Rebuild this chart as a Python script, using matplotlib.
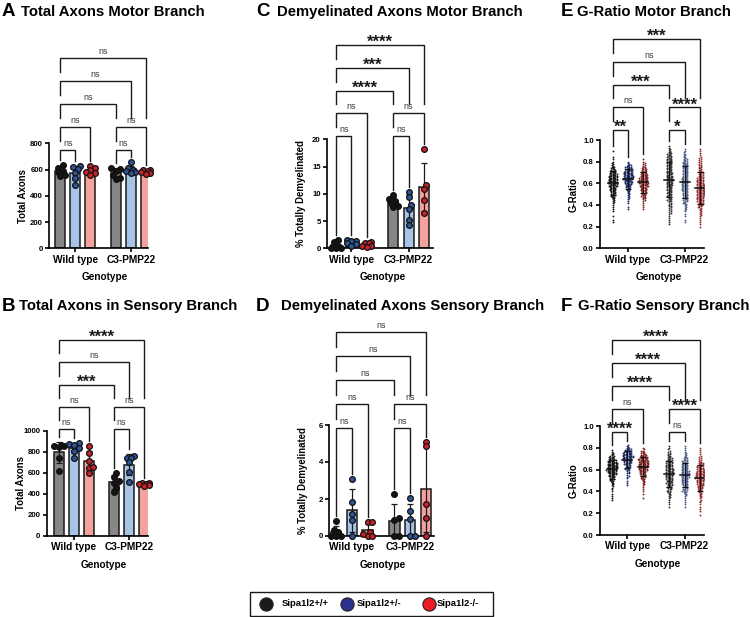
import matplotlib
matplotlib.use("Agg")
import matplotlib.pyplot as plt
import numpy as np
from matplotlib.lines import Line2D
from matplotlib.patches import Rectangle

plt.rcParams["font.family"] = ["Liberation Sans", "DejaVu Sans"]

GROUPS = ["Wild type", "C3-PMP22"]
GENOTYPES = ["Sipa1l2+/+", "Sipa1l2+/-", "Sipa1l2-/-"]

# per animal, order: WT +/+, WT +/-, WT -/-, C3 +/+, C3 +/-, C3 -/-
motor_total = [[635, 615, 590, 580, 555, 548],
               [628, 620, 605, 575, 535, 485],
               [630, 610, 595, 580, 575, 560],
               [615, 605, 590, 560, 535, 530],
               [655, 610, 600, 590, 580, 575],
               [600, 595, 590, 580, 570, 565]]
sensory_total = [[860, 855, 850, 845, 745, 615],
                 [885, 875, 860, 840, 810, 745],
                 [850, 785, 715, 650, 600, 660],
                 [600, 560, 520, 505, 460, 420],
                 [755, 745, 740, 700, 610, 510],
                 [505, 500, 495, 490, 480, 475]]
motor_demyel = [[1.5, 1.2, 0.5, 0.1, 0.0, 0.0],
                [1.6, 1.4, 1.3, 1.0, 0.7, 0.4],
                [1.1, 1.0, 0.9, 0.5, 0.4, 0.3],
                [9.8, 9.0, 8.6, 8.3, 7.8, 7.5],
                [10.4, 9.5, 8.0, 7.2, 5.2, 4.2],
                [18.3, 11.6, 10.8, 8.9, 6.5]]
sensory_demyel = [[0.8, 0.3, 0.2, 0.0, 0.0, 0.0],
                  [3.1, 1.85, 1.2, 0.85, 0.0],
                  [0.75, 0.75, 0.2, 0.1, 0.0, 0.0],
                  [2.27, 0.95, 0.85, 0.0, 0.0],
                  [2.05, 1.35, 0.9, 0.0, 0.0],
                  [5.1, 4.85, 1.75, 0.95, 0.0]]

# G-ratio: number of axons per 0.02 bin
G_BINS = [0.18, 0.20, 0.22, 0.24, 0.26, 0.28, 0.30, 0.32, 0.34, 0.36,
          0.38, 0.40, 0.42, 0.44, 0.46, 0.48, 0.50, 0.52, 0.54, 0.56,
          0.58, 0.60, 0.62, 0.64, 0.66, 0.68, 0.70, 0.72, 0.74, 0.76,
          0.78, 0.80, 0.82, 0.84, 0.86, 0.88, 0.90, 0.92, 0.94, 0.96]
motor_gratio = [
    [0, 0, 0, 1, 1, 0, 1, 0, 1, 1,  1, 1, 2, 2, 3, 4, 5, 6, 7, 8,
     9, 10, 11, 11, 10, 9, 7, 6, 4, 3,  2, 1, 1, 1, 0, 0, 1, 0, 0, 0],
    [0, 0, 0, 0, 0, 0, 0, 0, 0, 1,  1, 0, 1, 1, 2, 2, 3, 3, 4, 5,
     6, 8, 9, 11, 12, 11, 10, 9, 8, 6,  3, 1, 0, 0, 0, 0, 0, 0, 0, 0],
    [0, 0, 0, 0, 0, 0, 0, 0, 0, 1,  1, 1, 1, 2, 3, 4, 5, 6, 7, 8,
     9, 10, 10, 10, 9, 8, 7, 5, 4, 3,  2, 1, 1, 0, 0, 0, 0, 0, 0, 0],
    [0, 0, 1, 1, 1, 1, 1, 2, 2, 2,  3, 3, 3, 4, 4, 5, 5, 5, 6, 6,
     7, 7, 8, 8, 8, 7, 7, 6, 6, 6,  6, 6, 6, 5, 5, 4, 3, 2, 1, 0],
    [0, 0, 0, 1, 1, 0, 1, 1, 1, 2,  2, 3, 4, 5, 5, 6, 6, 6, 7, 7,
     7, 7, 7, 7, 6, 6, 6, 6, 6, 6,  5, 5, 4, 3, 3, 2, 1, 1, 0, 0],
    [0, 1, 1, 1, 1, 1, 2, 2, 2, 3,  4, 5, 6, 7, 8, 8, 9, 9, 9, 9,
     9, 8, 8, 7, 6, 5, 5, 4, 4, 3,  3, 2, 2, 2, 1, 1, 1, 1, 0, 0],
]
sensory_gratio = [
    [0, 0, 0, 0, 0, 0, 0, 1, 1, 1,  1, 1, 1, 2, 2, 3, 4, 5, 7, 9,
     11, 12, 13, 13, 12, 10, 7, 5, 3, 2,  1, 0, 0, 0, 0, 0, 0, 0, 0, 0],
    [0, 0, 0, 0, 0, 0, 0, 0, 0, 0,  0, 0, 0, 0, 1, 1, 1, 1, 2, 2,
     3, 4, 5, 6, 8, 9, 11, 12, 11, 9,  7, 4, 2, 0, 0, 0, 0, 0, 0, 0],
    [0, 0, 0, 0, 0, 0, 0, 0, 1, 0,  1, 1, 1, 1, 2, 2, 3, 4, 5, 7,
     8, 10, 11, 12, 12, 11, 10, 8, 6, 4,  2, 1, 0, 0, 0, 0, 0, 0, 0, 0],
    [0, 0, 0, 0, 1, 1, 1, 1, 2, 2,  3, 4, 4, 5, 6, 7, 7, 8, 8, 9,
     9, 9, 8, 8, 7, 6, 5, 4, 3, 2,  2, 1, 1, 0, 0, 0, 0, 0, 0, 0],
    [0, 0, 0, 0, 1, 1, 1, 1, 1, 2,  3, 4, 5, 5, 6, 7, 8, 8, 9, 9,
     9, 8, 8, 7, 6, 5, 4, 3, 2, 2,  1, 1, 1, 0, 0, 0, 0, 0, 0, 0],
    [1, 0, 1, 1, 1, 1, 1, 2, 2, 3,  3, 4, 5, 6, 7, 8, 9, 10, 10, 10,
     9, 8, 7, 6, 5, 3, 2, 2, 1, 1,  1, 1, 0, 0, 0, 0, 0, 0, 0, 0],
]

# multiple comparisons shown as brackets
PAIRS = [(0, 1), (3, 4), (0, 2), (3, 5), (0, 3), (0, 4), (0, 5)]
LEVELS = [0, 0, 1, 1, 2, 3, 4]
sig_a = ["ns", "ns", "ns", "ns", "ns", "ns", "ns"]
sig_b = ["ns", "ns", "ns", "ns", "***", "ns", "****"]
sig_c = ["ns", "ns", "ns", "ns", "****", "***", "****"]
sig_d = ["ns", "ns", "ns", "ns", "ns", "ns", "ns"]
sig_e = ["**", "*", "ns", "****", "***", "ns", "***"]
sig_f = ["****", "ns", "ns", "****", "****", "****", "****"]

BAR_COLORS = ["#868686", "#a7c3e6", "#f3a29e"] * 2
PT_COLORS = ["#141414", "#2f5597", "#c8222b"] * 2
G_COLORS = ["#161616", "#1d2b63", "#7e1e1e", "#333333", "#4f5f88", "#962f2f"]
POS = np.array([0, 1, 2, 3.7, 4.7, 5.7])

W, H = 750, 617
fig = plt.figure(figsize=(7.5, 6.17), dpi=100)


def make_axes(x0, xf, xl, x1, y0, ytv, ytp, top):
    ppu = (xl - xf) / POS[-1]
    vpp = ytv / (y0 - ytp)
    ax = fig.add_axes([x0 / W, 1 - y0 / H, (x1 - x0) / W, (y0 - top) / H])
    ax.set_xlim(-(xf - x0) / ppu, POS[-1] + (x1 - xl) / ppu)
    ax.set_ylim(0, ytv + (ytp - top) * vpp)
    ax.patch.set_visible(False)
    for s in ("top", "right"):
        ax.spines[s].set_visible(False)
    for s in ("left", "bottom"):
        ax.spines[s].set_linewidth(1.2)
    ax.spines["left"].set_bounds(0, ytv)
    return ax, ppu, vpp


def swarm_offsets(ypx, d, wmax):
    # simple beeswarm in pixel space, points may overlap once wmax is reached
    xs = np.zeros(len(ypx))
    placed = np.empty((0, 2))
    step = d * 0.5
    for i in np.argsort(ypx, kind="stable"):
        y = ypx[i]
        near = placed[np.abs(placed[:, 1] - y) < d]
        best, best_dist = 0.0, -1.0
        k = 0
        while True:
            cand = ((k + 1) // 2) * (1 if k % 2 else -1) * step
            if abs(cand) > wmax:
                cand = best
                break
            dist = np.min((near[:, 0] - cand) ** 2 + (near[:, 1] - y) ** 2) if len(near) else 1e9
            if dist >= d * d * 0.97:
                break
            if dist > best_dist:
                best, best_dist = cand, dist
            k += 1
        xs[i] = cand
        placed = np.vstack([placed, [cand, y]])
    return xs


def style(ax, x0, y0, ytp, yticks, fmt, ylabel):
    ax.set_yticks(yticks)
    ax.set_yticklabels([fmt.format(t) for t in yticks], fontsize=5.6, fontweight="bold")
    ax.set_xticks([POS[1], POS[4]])
    ax.set_xticklabels(GROUPS, fontsize=7.3, fontweight="bold")
    ax.tick_params(axis="y", length=3, width=1.2, pad=1.5)
    ax.tick_params(axis="x", length=3, width=1.2, pad=1.5)
    fig.text((x0 - 26) / W, 1 - (y0 + ytp) / 2 / H, ylabel, rotation=90,
             ha="center", va="center", fontsize=6.9, fontweight="bold")
    xm = ax.transData.transform(((POS[0] + POS[-1]) / 2, 0))[0]
    fig.text(xm / W + 0.003, 1 - (y0 + 29) / H, "Genotype", ha="center", va="center",
             fontsize=7.2, fontweight="bold")


def brackets(ax, labels, tops, y0, lvl0_px, step_px, vpp):
    ys = [(y0 - lvl0_px + l * step_px) * vpp for l in LEVELS]
    for k, ((a, b), lab) in enumerate(zip(PAIRS, labels)):
        y = ys[k]
        bots = []
        for j in (a, b):
            floor = tops[j] + 5 * vpp
            for m, (a2, b2) in enumerate(PAIRS):
                if LEVELS[m] < LEVELS[k] and POS[a2] <= POS[j] <= POS[b2]:
                    floor = max(floor, ys[m] + 9 * vpp)
            bots.append(min(floor, y - 3 * vpp))
        ax.plot([POS[a], POS[a], POS[b], POS[b]], [bots[0], y, y, bots[1]],
                color="#1a1a1a", lw=1, clip_on=False, solid_joinstyle="miter")
        mid = (POS[a] + POS[b]) / 2
        if lab == "ns":
            ax.text(mid, y + 4 * vpp, lab, ha="center", va="baseline", fontsize=6.4,
                    color="#3a3a3a", clip_on=False)
        else:
            ax.text(mid, y - 2 * vpp, lab, ha="center", va="baseline", fontsize=12,
                    fontweight="bold", color="#1a1a1a", clip_on=False)


def bar_panel(geom, vals_list, yticks, fmt, ylabel, labels, lvl0_px, step_px):
    ax, ppu, vpp = make_axes(*geom)
    x0, y0, ytp = geom[0], geom[4], geom[6]
    tops = []
    for i, vals in enumerate(vals_list):
        v = np.asarray(vals, float)
        m, sd = v.mean(), v.std(ddof=1)
        ax.bar(POS[i], m, width=0.65, color=BAR_COLORS[i], edgecolor="#1a1a1a", lw=1.1, zorder=2)
        ax.errorbar(POS[i], m, yerr=sd, color="#1a1a1a", lw=0.9, capsize=2.5, capthick=0.9, zorder=3)
        dx = swarm_offsets(v / vpp, 4.6, 6.5) / ppu
        ax.scatter(POS[i] + dx, v, s=17, c=PT_COLORS[i], edgecolors="#111111",
                   linewidths=0.9, zorder=4, clip_on=False)
        tops.append(max(v.max(), m + sd))
    style(ax, x0, y0, ytp, yticks, fmt, ylabel)
    brackets(ax, labels, tops, y0, lvl0_px, step_px, vpp)
    return ax


def gratio_panel(geom, counts_list, labels, lvl0_px, step_px):
    ax, ppu, vpp = make_axes(*geom)
    x0, y0, ytp = geom[0], geom[4], geom[6]
    tops = []
    for i, counts in enumerate(counts_list):
        vals = np.repeat(G_BINS, counts)
        # spread each bin's points over the height of the bin
        ys = []
        for b, n in zip(G_BINS, counts):
            ys.extend(b + ((np.arange(n) + 0.5) / n - 0.5) * 0.02 if n > 1 else [b] * n)
        ys = np.array(ys)
        dx = swarm_offsets(ys / vpp, 1.35, 7.5) / ppu
        ax.scatter(POS[i] + dx, ys, s=1.8, c=G_COLORS[i], linewidths=0, zorder=3)
        m, sd = vals.mean(), vals.std(ddof=1)
        ax.plot([POS[i] - 0.32, POS[i] + 0.32], [m, m], color="#111111", lw=1.1, zorder=4)
        ax.errorbar(POS[i], m, yerr=sd, color="#111111", lw=0.7, capsize=2.5, capthick=0.9, zorder=4)
        tops.append(vals.max())
    style(ax, x0, y0, ytp, [0, 0.2, 0.4, 0.6, 0.8, 1.0], "{:.1f}", "G-Ratio")
    brackets(ax, labels, tops, y0, lvl0_px, step_px, vpp)
    return ax


def title(x_letter, x_text, y, letter, text):
    fig.text(x_letter / W, 1 - y / H, letter, fontsize=13.5, fontweight="bold", va="center")
    fig.text(x_text / W, 1 - y / H, text, fontsize=10.7, fontweight="bold", va="center")


# geometry in pixels: y-axis x, first group x, last group x, x-axis end, zero y, top tick value, top tick y, axes top
bar_panel((49.3, 60.3, 145.7, 148, 248.3, 800, 143.3, 30), motor_total,
          [0, 200, 400, 600, 800], "{:d}", "Total Axons", sig_a, 150, 23)
bar_panel((46.7, 59, 144, 148, 536, 1000, 430.7, 318), sensory_total,
          [0, 200, 400, 600, 800, 1000], "{:d}", "Total Axons", sig_b, 429, 22.2)
bar_panel((327, 336, 424, 433, 248.3, 20, 139.3, 30), motor_demyel,
          [0, 5, 10, 15, 20], "{:d}", "% Totally Demyelinated", sig_c, 136, 22.7)
bar_panel((329.3, 336, 426, 434, 536, 6, 425, 318), sensory_demyel,
          [0, 2, 4, 6], "{:d}", "% Totally Demyelinated", sig_d, 427.7, 24)
gratio_panel((600, 612.7, 700, 704, 248.3, 1.0, 140, 30), motor_gratio, sig_e, 130, 22.7)
gratio_panel((600, 611.7, 700, 704, 535, 1.0, 426, 318), sensory_gratio, sig_f, 431.7, 23)

title(2, 21, 12, "A", "Total Axons Motor Branch")
title(2, 19, 306, "B", "Total Axons in Sensory Branch")
title(256, 277, 12, "C", "Demyelinated Axons Motor Branch")
title(256, 281, 306, "D", "Demyelinated Axons Sensory Branch")
title(561, 577, 12, "E", "G-Ratio Motor Branch")
title(561, 578, 306, "F", "G-Ratio Sensory Branch")

# legend
fig.add_artist(Rectangle((250 / W, 1 - 616 / H), 243 / W, 24 / H, transform=fig.transFigure,
                         fill=False, edgecolor="#1a1a1a", lw=1))
leg_colors = ["#1a1a1a", "#2e3192", "#ed1c24"]
for cx, tx, col, lab in zip([266, 347, 429], [282, 357, 437], leg_colors, GENOTYPES):
    fig.add_artist(Line2D([cx / W], [1 - 604 / H], transform=fig.transFigure, marker="o",
                          markersize=9.5, markerfacecolor=col, markeredgecolor="#222222",
                          markeredgewidth=0.8, linestyle="none"))
    fig.text(tx / W, 1 - 604 / H, lab, fontsize=6.8, fontweight="bold", va="center")

fig.savefig("out.png", dpi=100)
